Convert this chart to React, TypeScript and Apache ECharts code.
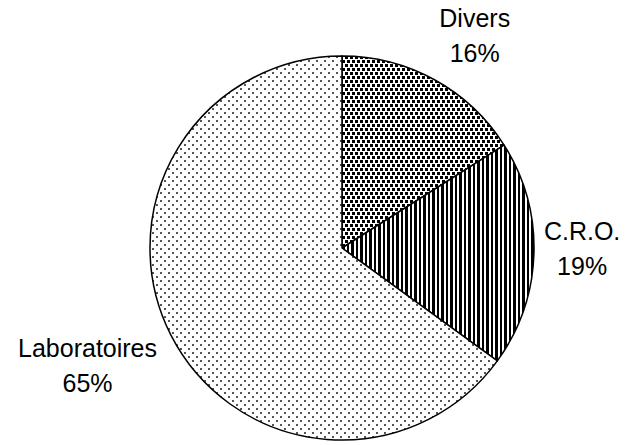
import React, { useEffect, useRef } from "react";
import * as echarts from "echarts";

const categories = ["Divers", "C.R.O.", "Laboratoires"];
const values = [16, 19, 65];

const CX = 342;
const CY = 248;
const R = 192;
const GAP = 10;

function makeTile(w: number, h: number, draw: (ctx: CanvasRenderingContext2D) => void) {
  const c = document.createElement("canvas");
  c.width = w;
  c.height = h;
  const ctx = c.getContext("2d")!;
  ctx.fillStyle = "#fff";
  ctx.fillRect(0, 0, w, h);
  draw(ctx);
  return c;
}

const clamp = (v: number) => Math.max(-1, Math.min(1, v));

export default function App() {
  const ref = useRef<HTMLDivElement>(null);
  useEffect(() => {
    if (!ref.current) return;
    const chart = echarts.init(ref.current, null, { renderer: "svg" });

    const dense = makeTile(10, 8, (ctx) => {
      ctx.fillStyle = "#000";
      ctx.fillRect(0, 0, 3, 3);
      ctx.fillRect(5, 0, 3, 3);
      ctx.fillRect(2, 4, 3, 3);
      ctx.fillRect(7, 4, 3, 3);
    });
    const stripes = makeTile(9, 4, (ctx) => {
      ctx.fillStyle = "#000";
      ctx.fillRect(0, 0, 3, 4);
      ctx.fillRect(5, 0, 2, 4);
    });
    const sparse = makeTile(8, 8, (ctx) => {
      ctx.fillStyle = "#555";
      ctx.fillRect(0, 0, 2, 2);
      ctx.fillRect(4, 4, 2, 2);
    });
    const patterns = [dense, stripes, sparse];

    const total = values.reduce((a, b) => a + b, 0);
    const mids: number[] = [];
    let acc = 0;
    values.forEach((v) => {
      mids.push(((acc + v / 2) / total) * Math.PI * 2);
      acc += v;
    });

    chart.setOption({
      animation: false,
      series: [
        {
          type: "pie",
          center: [CX, CY],
          radius: R,
          startAngle: 90,
          clockwise: true,
          avoidLabelOverlap: false,
          data: categories.map((name, i) => ({
            name,
            value: values[i],
            itemStyle: {
              color: { image: patterns[i], repeat: "repeat" },
              borderColor: "#000",
              borderWidth: 1.5,
            },
          })),
          label: {
            show: true,
            position: "inside",
            formatter: "{b}\n{d}%",
            color: "#000",
            fontFamily: "Liberation Sans, Arial, sans-serif",
            fontSize: 25,
            lineHeight: 35,
            align: "center",
            overflow: "none",
          },
          labelLine: { show: false },
          labelLayout: (p: any) => {
            const a = mids[p.dataIndex];
            const ux = Math.sin(a);
            const uy = -Math.cos(a);
            const w = p.labelRect.width;
            const h = p.labelRect.height;
            const d = R + GAP;
            return {
              x: CX + d * ux + (w / 2) * clamp(ux * 3) - (ux < -0.5 ? 5 : 0),
              y: CY + d * uy + (h / 2) * clamp(uy * 3) - (uy >= 0 ? 9 : 0),
              align: "center",
              verticalAlign: "middle",
            };
          },
          emphasis: { disabled: true },
        },
      ],
    });
    return () => chart.dispose();
  }, []);
  return (
    <div
      ref={ref}
      style={{ position: "fixed", left: 0, top: 0, width: 626, height: 445, background: "#fff" }}
    />
  );
}
